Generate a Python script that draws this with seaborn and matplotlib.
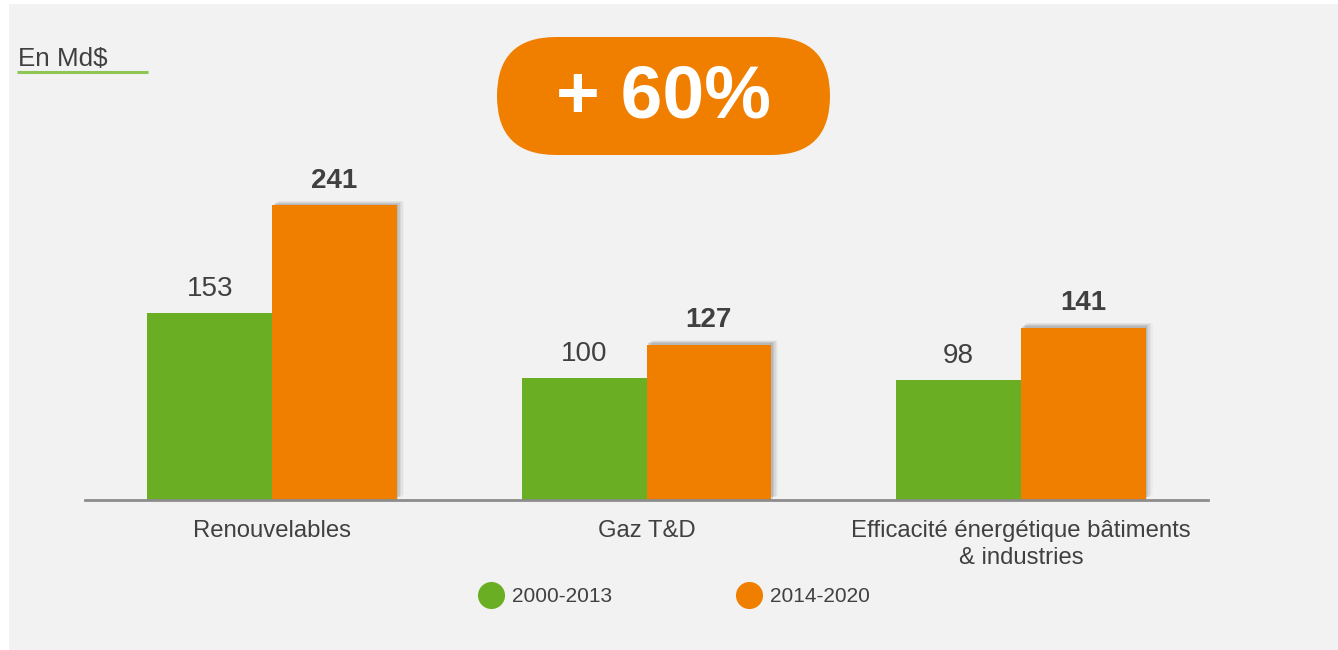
import matplotlib
matplotlib.use("Agg")
import matplotlib.pyplot as plt
import matplotlib.patheffects as pe
from matplotlib.patches import FancyBboxPatch, Rectangle
import seaborn as sns
import pandas as pd

categories = ["Renouvelables", "Gaz T&D", "Efficacité énergétique bâtiments\n& industries"]
series = ["2000-2013", "2014-2020"]
values_2000_2013 = [153, 100, 98]
values_2014_2020 = [241, 127, 141]
unit_label = "En Md$"
badge_text = "+ 60%"

colors = ["#6AAF23", "#F07F00"]
text_col = "#404040"

rows = []
for c, a, b in zip(categories, values_2000_2013, values_2014_2020):
    rows.append({"cat": c, "period": series[0], "val": a})
    rows.append({"cat": c, "period": series[1], "val": b})
df = pd.DataFrame(rows)

sns.set_theme(style="white")
plt.rcParams["font.family"] = ["Liberation Sans", "DejaVu Sans"]

fig = plt.figure(figsize=(13.38, 6.5), dpi=100, facecolor="white")

# background / overlay axes in pixel coords
bg = fig.add_axes([0, 0, 1, 1], zorder=0)
bg.set_xlim(0, 1338)
bg.set_ylim(650, 0)
bg.axis("off")
bg.add_patch(Rectangle((9, 4), 1329, 646, facecolor="#F2F2F2", edgecolor="none"))

ax = fig.add_axes([85 / 1338, 150 / 650, (1208 - 85) / 1338, 366.67 / 650], zorder=1)
ax.patch.set_alpha(0)
sns.barplot(data=df, x="cat", y="val", hue="period", order=categories, hue_order=series,
            palette=colors, width=0.667, gap=0, saturation=1, ax=ax, legend=False,
            errorbar=None, edgecolor="none", linewidth=0)
ax.set_xlim(-0.5, 2.5)
ax.set_ylim(0, 300)
ax.set_xlabel("")
ax.set_ylabel("")
ax.set_yticks([])
for s in ["top", "left", "right"]:
    ax.spines[s].set_visible(False)
ax.spines["bottom"].set_color("#8C8C8C")
ax.spines["bottom"].set_linewidth(2)
ax.tick_params(axis="x", length=0, pad=14.5, labelsize=17.2, labelcolor=text_col)
for lab in ax.get_xticklabels():
    lab.set_linespacing(1.3)

# soft shadow on the second series
shadow = [pe.SimplePatchShadow(offset=(1, 1), shadow_rgbFace="#777777", alpha=0.22),
          pe.SimplePatchShadow(offset=(2, 2), shadow_rgbFace="#777777", alpha=0.18),
          pe.SimplePatchShadow(offset=(3, 2.5), shadow_rgbFace="#888888", alpha=0.14),
          pe.SimplePatchShadow(offset=(4, 3), shadow_rgbFace="#999999", alpha=0.10),
          pe.SimplePatchShadow(offset=(5, 3.5), shadow_rgbFace="#AAAAAA", alpha=0.07),
          pe.Normal()]
for p in ax.containers[1]:
    p.set_path_effects(shadow)

ax.bar_label(ax.containers[0], labels=[str(v) for v in values_2000_2013], padding=8,
             fontsize=20, color=text_col)
ax.bar_label(ax.containers[1], labels=[str(v) for v in values_2014_2020], padding=8.5,
             fontsize=20, color=text_col, fontweight="bold")

# overlay decorations
ov = fig.add_axes([0, 0, 1, 1], zorder=2)
ov.set_xlim(0, 1338)
ov.set_ylim(650, 0)
ov.axis("off")
ov.patch.set_alpha(0)

ov.text(18, 66, unit_label, fontsize=18.7, color=text_col, ha="left", va="baseline")
ov.plot([17, 148], [72, 72], color="#8DC655", lw=2.2, solid_capstyle="butt")

ov.add_patch(FancyBboxPatch((497, 37), 333, 118,
                            boxstyle="round,pad=0,rounding_size=59",
                            facecolor="#F07F00", edgecolor="none"))
ov.text(664, 98, badge_text, fontsize=54, fontweight="bold", color="white",
        ha="center", va="center")

# legend
leg_x = [491, 749]
for x, name, col in zip(leg_x, series, colors):
    ov.scatter([x], [595], s=19.5 ** 2, color=col, marker="o", linewidths=0)
    ov.text(x + 21, 596, name, fontsize=15, color=text_col, ha="left", va="center")

fig.savefig("out.png", dpi=100, facecolor="white")
